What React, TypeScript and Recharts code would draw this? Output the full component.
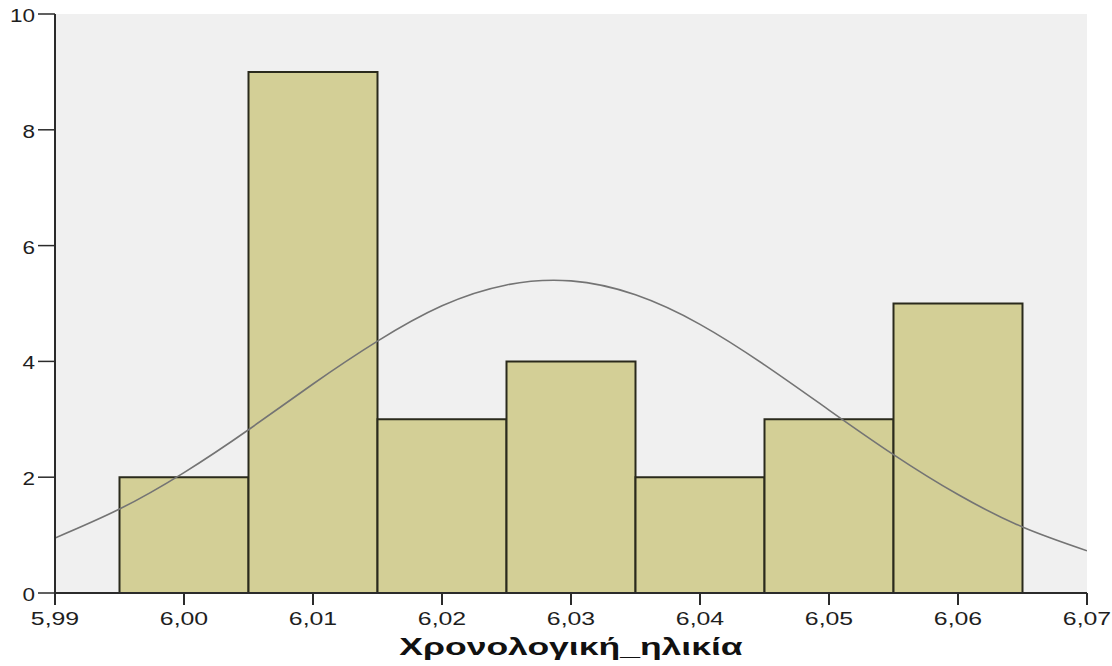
import { Bar, CartesianGrid, ComposedChart, Line, XAxis, YAxis } from 'recharts';

// histogram bins (centre of each 0,01-wide bin) and their counts
const binCenters = [6.0, 6.01, 6.02, 6.03, 6.04, 6.05, 6.06];
const binCounts = [2, 9, 3, 4, 2, 3, 5];

// normal curve, every 0,005
const curveX = [
  5.99, 5.995, 6.0, 6.005, 6.01, 6.015, 6.02, 6.025, 6.03, 6.035, 6.04, 6.045, 6.05, 6.055, 6.06,
  6.065, 6.07,
];
const curveY = [
  0.95, 1.45, 2.08, 2.82, 3.61, 4.35, 4.96, 5.32, 5.39, 5.15, 4.64, 3.94, 3.16, 2.39, 1.7, 1.14,
  0.73,
];

const xTicks = [5.99, 6.0, 6.01, 6.02, 6.03, 6.04, 6.05, 6.06, 6.07];
const yTicks = [0, 2, 4, 6, 8, 10];

const bins = binCenters.map((x, i) => ({ x, count: binCounts[i] }));
const curve = curveX.map((x, i) => ({ x, y: curveY[i] }));

const AXIS = '#2b2b2b';
const FONT = '"Liberation Sans", Arial, sans-serif';
// the SPSS export is stretched sideways, so the text is too
const STRETCH = 1.38;

function XTick({ x, y, payload }: any) {
  return (
    <g transform={`translate(${x},${y})`}>
      <text
        transform={`scale(${STRETCH},1)`}
        textAnchor="middle"
        dy={18}
        fill="#1e1e1e"
        fontSize={18}
        fontFamily={FONT}
      >
        {payload.value.toFixed(2).replace('.', ',')}
      </text>
    </g>
  );
}

function YTick({ x, y, payload }: any) {
  return (
    <g transform={`translate(${x},${y})`}>
      <text
        transform={`scale(1.25,1)`}
        textAnchor="end"
        dy={8}
        fill="#1e1e1e"
        fontSize={18}
        fontFamily={FONT}
      >
        {payload.value}
      </text>
    </g>
  );
}

function AxisTitle({ viewBox }: any) {
  const cx = viewBox.x + viewBox.width / 2;
  return (
    <g transform={`translate(${cx},${viewBox.y + 62})`}>
      <text
        transform="scale(1.48,1)"
        textAnchor="middle"
        fill="#111"
        fontSize={24}
        fontWeight="bold"
        fontFamily={FONT}
      >
        Χρονολογική_ηλικία
      </text>
    </g>
  );
}

export default function App() {
  return (
    <div style={{ position: 'absolute', left: 0, top: 0, background: '#fff' }}>
      <ComposedChart
        width={1112}
        height={666}
        data={bins}
        margin={{ top: 14, right: 25, bottom: 0, left: 0 }}
        barCategoryGap={0}
      >
        <CartesianGrid fill="#f0f0f0" horizontal={false} vertical={false} />
        <XAxis
          dataKey="x"
          type="number"
          domain={[5.99, 6.07]}
          ticks={xTicks}
          tickCount={9}
          interval={0}
          allowDataOverflow
          height={73}
          tick={<XTick />}
          tickSize={12}
          tickMargin={2}
          axisLine={{ stroke: AXIS, strokeWidth: 2 }}
          tickLine={{ stroke: AXIS, strokeWidth: 2 }}
          label={<AxisTitle />}
        />
        <XAxis
          xAxisId="top"
          dataKey="x"
          orientation="top"
          type="number"
          domain={[5.99, 6.07]}
          allowDataOverflow
          height={0}
          tick={false}
          tickLine={false}
          axisLine={{ stroke: AXIS, strokeWidth: 2 }}
        />
        <YAxis
          type="number"
          domain={[0, 10]}
          ticks={yTicks}
          interval={0}
          width={55}
          tick={<YTick />}
          tickSize={17}
          tickMargin={3}
          axisLine={{ stroke: AXIS, strokeWidth: 2 }}
          tickLine={{ stroke: AXIS, strokeWidth: 1.5 }}
        />
        <YAxis
          yAxisId="right"
          orientation="right"
          domain={[0, 10]}
          width={0}
          tick={false}
          tickLine={false}
          axisLine={{ stroke: AXIS, strokeWidth: 2 }}
        />
        <Bar
          dataKey="count"
          fill="#d3cf96"
          stroke="#2a2a1c"
          strokeWidth={2}
          isAnimationActive={false}
        />
        <Line
          xAxisId="top"
          data={curve}
          dataKey="y"
          type="natural"
          stroke="#747474"
          strokeWidth={1.6}
          dot={false}
          activeDot={false}
          isAnimationActive={false}
        />
      </ComposedChart>
    </div>
  );
}
